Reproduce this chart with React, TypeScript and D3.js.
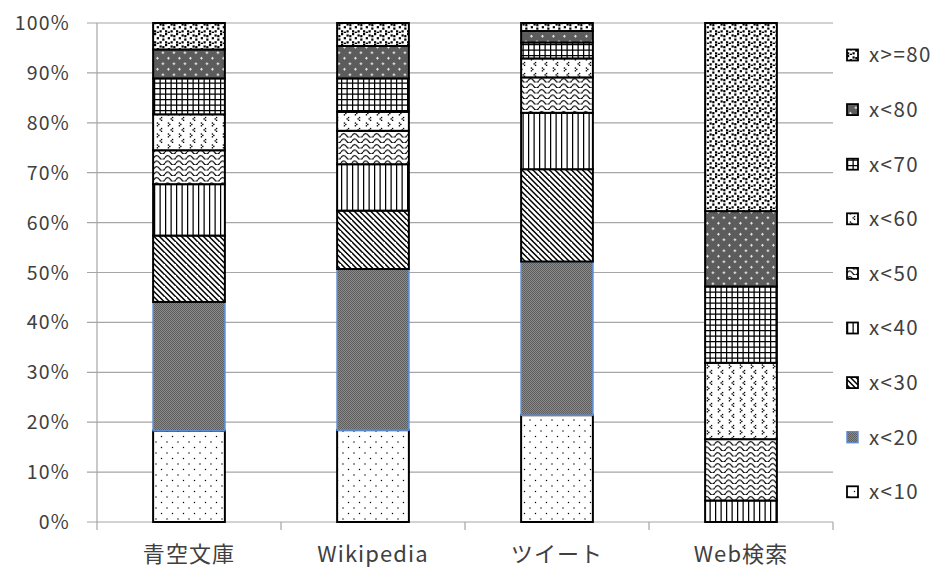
import React from "react";
import * as d3 from "d3";

// Categories (bars) and score buckets (stack order, bottom to top)
const categories = ["青空文庫", "Wikipedia", "ツイート", "Web検索"];
const buckets = ["x<10", "x<20", "x<30", "x<40", "x<50", "x<60", "x<70", "x<80", "x>=80"];

// Share of each bucket per category (%)
const lt10 = [18.3, 18.4, 21.4, 0];
const lt20 = [25.8, 32.3, 30.8, 0];
const lt30 = [13.3, 11.7, 18.5, 0];
const lt40 = [10.3, 9.3, 11.3, 4.3];
const lt50 = [6.8, 6.7, 7.1, 12.3];
const lt60 = [7.2, 3.8, 3.8, 15.3];
const lt70 = [7.2, 6.7, 3.2, 15.3];
const lt80 = [5.8, 6.5, 2.3, 15.1];
const ge80 = [5.3, 4.6, 1.6, 37.7];

const yTicks = [0, 10, 20, 30, 40, 50, 60, 70, 80, 90, 100];

const seriesValues = [lt10, lt20, lt30, lt40, lt50, lt60, lt70, lt80, ge80];

const W = 939;
const H = 570;
const plot = { left: 97, right: 833, top: 23, bottom: 522 };
const FONT = "'Noto Sans CJK JP', 'Noto Sans', sans-serif";
const TEXT = "#404040";
const GRID = "#a6a6a6";

const rows = categories.map((c, i) => {
  const r: Record<string, any> = { category: c };
  buckets.forEach((b, j) => (r[b] = seriesValues[j][i]));
  return r;
});

const stacked = d3.stack<Record<string, any>>().keys(buckets)(rows);

const x = d3.scaleBand<string>().domain(categories).range([plot.left, plot.right]).paddingInner(0).paddingOuter(0);
const y = d3.scaleLinear().domain([0, 100]).range([plot.bottom, plot.top]);
const barW = x.bandwidth() * 0.39;

const patId = (i: number) => `pat-${i}`;

function Patterns() {
  const k = "scale(1.375)";
  // divot marks
  const divot = [
    [2, 1], [3, 2], [2, 3],
    [5, 5], [4, 6], [5, 7],
  ];
  const confetti = [
    [0, 0], [4, 1], [2, 3], [6, 4], [0, 6], [4, 6], [6, 1.5], [2, 7],
  ];
  return (
    <defs>
      {/* x<10: sparse dots */}
      <pattern id={patId(0)} width={8} height={8} patternUnits="userSpaceOnUse" patternTransform={k}>
        <rect width={8} height={8} fill="#fff" />
        <rect x={1} y={1} width={0.9} height={0.9} fill="#000" />
        <rect x={5} y={5} width={0.9} height={0.9} fill="#000" />
      </pattern>
      {/* x<20: fine 50% texture */}
      <pattern id={patId(1)} width={2} height={2} patternUnits="userSpaceOnUse">
        <rect width={2} height={2} fill="#8a8a8a" />
        <rect width={1} height={1} fill="#5e5e5e" />
        <rect x={1} y={1} width={1} height={1} fill="#5e5e5e" />
      </pattern>
      {/* x<30: downward diagonal */}
      <pattern id={patId(2)} width={8} height={8} patternUnits="userSpaceOnUse" patternTransform={k}>
        <rect width={8} height={8} fill="#fff" />
        <path d="M-9,-1 L1,9 M-5,-1 L5,9 M-1,-1 L9,9 M3,-1 L13,9" stroke="#000" strokeWidth={1.1} />
      </pattern>
      {/* x<40: vertical lines */}
      <pattern id={patId(3)} width={8} height={8} patternUnits="userSpaceOnUse" patternTransform={k}>
        <rect width={8} height={8} fill="#fff" />
        <rect x={0} y={0} width={0.9} height={8} fill="#000" />
        <rect x={4} y={0} width={0.9} height={8} fill="#000" />
      </pattern>
      {/* x<50: waves */}
      <pattern id={patId(4)} width={8} height={4} patternUnits="userSpaceOnUse" patternTransform={k}>
        <rect width={8} height={4} fill="#fff" />
        <path d="M0,2.6 Q2,-0.4 4,2.6 T8,2.6" fill="none" stroke="#000" strokeWidth={0.85} />
      </pattern>
      {/* x<60: divot */}
      <pattern id={patId(5)} width={8} height={8} patternUnits="userSpaceOnUse" patternTransform={k}>
        <rect width={8} height={8} fill="#fff" />
        {divot.map(([a, b], i) => (
          <rect key={i} x={a} y={b} width={1} height={1} fill="#000" />
        ))}
      </pattern>
      {/* x<70: small grid */}
      <pattern id={patId(6)} width={8} height={8} patternUnits="userSpaceOnUse" patternTransform={k}>
        <rect width={8} height={8} fill="#fff" />
        <rect x={0} y={0} width={0.9} height={8} fill="#000" />
        <rect x={4} y={0} width={0.9} height={8} fill="#000" />
        <rect x={0} y={0} width={8} height={0.9} fill="#000" />
        <rect x={0} y={4} width={8} height={0.9} fill="#000" />
      </pattern>
      {/* x<80: dark texture with light crosses */}
      <pattern id={patId(7)} width={8} height={8} patternUnits="userSpaceOnUse" patternTransform={k}>
        <rect width={8} height={8} fill="#5c5c5c" />
        <rect x={1.5} y={2} width={2} height={0.7} fill="#e8e8e8" />
        <rect x={2.15} y={1.35} width={0.7} height={2} fill="#e8e8e8" />
        <rect x={5.5} y={6} width={2} height={0.7} fill="#e8e8e8" />
        <rect x={6.15} y={5.35} width={0.7} height={2} fill="#e8e8e8" />
      </pattern>
      {/* x>=80: confetti */}
      <pattern id={patId(8)} width={8} height={8} patternUnits="userSpaceOnUse" patternTransform={k}>
        <rect width={8} height={8} fill="#fff" />
        {confetti.map(([a, b], i) => (
          <rect key={i} x={a} y={b} width={1.6} height={1.6} fill="#000" />
        ))}
      </pattern>
    </defs>
  );
}

export default function App() {
  const legendY0 = 55;
  const legendStep = 54.6;
  const legendOrder = buckets.map((b, i) => i).reverse();

  return (
    <svg width={W} height={H} style={{ position: "absolute", left: 0, top: 0, background: "#fff" }}>
      <Patterns />
      <rect width={W} height={H} fill="#fff" />

      {/* grid lines and y ticks */}
      {yTicks.map((t) => (
        <g key={t}>
          <line x1={plot.left - 10} x2={plot.right} y1={y(t)} y2={y(t)} stroke={GRID} strokeWidth={1.2} />
          <text
            x={70}
            y={y(t)}
            dy="0.36em"
            textAnchor="end"
            fontFamily={FONT}
            fontSize={19.5}
            letterSpacing={1.2}
            fill={TEXT}
          >
            {`${t}%`}
          </text>
        </g>
      ))}
      {/* y axis */}
      <line x1={plot.left} x2={plot.left} y1={plot.top} y2={plot.bottom + 8} stroke={GRID} strokeWidth={1.2} />
      {/* category boundary ticks */}
      {categories.map((c) => (
        <line
          key={c}
          x1={(x(c) as number) + x.bandwidth()}
          x2={(x(c) as number) + x.bandwidth()}
          y1={plot.bottom}
          y2={plot.bottom + 8}
          stroke={GRID}
          strokeWidth={1.2}
        />
      ))}

      {/* stacked bars */}
      {stacked.map((s, si) => (
        <g key={s.key}>
          {s.map((d, ci) => {
            const h = y(d[0]) - y(d[1]);
            if (h <= 0) return null;
            const cx = (x(categories[ci]) as number) + x.bandwidth() / 2;
            const blue = si === 1;
            return (
              <rect
                key={ci}
                x={cx - barW / 2}
                y={y(d[1])}
                width={barW}
                height={h}
                fill={`url(#${patId(si)})`}
                stroke={blue ? "#5b8bd0" : "#000"}
                strokeWidth={blue ? 1.6 : 2}
              />
            );
          })}
        </g>
      ))}

      {/* category labels */}
      {categories.map((c) => (
        <text
          key={c}
          x={(x(c) as number) + x.bandwidth() / 2}
          y={562}
          textAnchor="middle"
          fontFamily={FONT}
          fontSize={22}
          letterSpacing={1.1}
          fill={TEXT}
        >
          {c}
        </text>
      ))}

      {/* legend */}
      {legendOrder.map((si, i) => {
        const ly = legendY0 + i * legendStep;
        const blue = si === 1;
        return (
          <g key={buckets[si]}>
            <rect
              x={847}
              y={ly - 5.5}
              width={11}
              height={11}
              fill={`url(#${patId(si)})`}
              stroke={blue ? "#5b8bd0" : "#000"}
              strokeWidth={blue ? 1.4 : 1.8}
            />
            <text x={869} y={ly} dy="0.36em" fontFamily={FONT} fontSize={20.5} letterSpacing={1.4} fill={TEXT}>
              {buckets[si]}
            </text>
          </g>
        );
      })}
    </svg>
  );
}
